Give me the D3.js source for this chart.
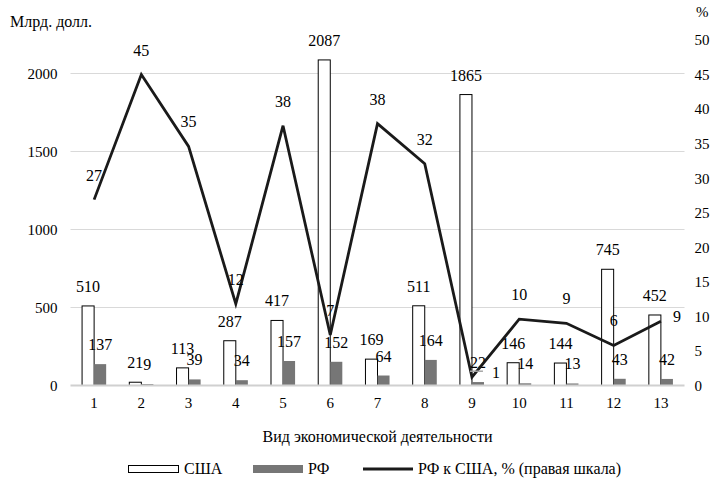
<!DOCTYPE html>
<html>
<head>
<meta charset="utf-8">
<script src="https://cdn.jsdelivr.net/npm/d3@7"></script>
<style>
  body { margin: 0; background: #fff; }
  svg, svg text { font-family: "Liberation Serif", "Times New Roman", serif; }
</style>
</head>
<body>
<div id="chart"></div>
<script>
// Data
var categories = ['1', '2', '3', '4', '5', '6', '7', '8', '9', '10', '11', '12', '13'];
var usa = [510, 21, 113, 287, 417, 2087, 169, 511, 1865, 146, 144, 745, 452];
var rf = [137, 9, 39, 34, 157, 152, 64, 164, 22, 14, 13, 43, 42];
var share = [26.9, 45, 34.6, 11.8, 37.6, 7.3, 37.9, 32.1, 1.2, 9.6, 9.0, 5.8, 9.3];
var shareLabels = ['27', '45', '35', '12', '38', '7', '38', '32', '1', '10', '9', '6', '9'];
var leftTicks = [0, 500, 1000, 1500, 2000];
var rightTicks = [0, 5, 10, 15, 20, 25, 30, 35, 40, 45, 50];

var width = 716, height = 481;
var plotLeft = 70.5, plotRight = 684.5, plotTop = 40, plotBottom = 385.5;

var svg = d3.select('#chart').append('svg')
            .attr('width', width)
            .attr('height', height);

// Scales
var x = d3.scaleBand()
          .domain(categories)
          .range([plotLeft, plotRight])
          .padding(0);

var y = d3.scaleLinear()
          .domain([0, 2000 * (plotBottom - plotTop) / (plotBottom - 73.5)])
          .range([plotBottom, plotTop]);

var y2 = d3.scaleLinear()
           .domain([0, 50])
           .range([plotBottom, plotTop]);

var barW = x.bandwidth() * 0.255;

// Gridlines
svg.append('g')
   .selectAll('line')
   .data(leftTicks.slice(1))
   .enter().append('line')
   .attr('x1', plotLeft).attr('x2', plotRight)
   .attr('y1', function(d) { return y(d); })
   .attr('y2', function(d) { return y(d); })
   .attr('stroke', '#d9d9d9')
   .attr('stroke-width', 1);

// Left axis labels
var yAxis = d3.axisLeft(y)
              .tickValues(leftTicks)
              .tickFormat(d3.format('d'))
              .tickSize(0)
              .tickPadding(13);

svg.append('g')
   .attr('transform', 'translate(' + plotLeft + ',0)')
   .call(yAxis)
   .attr('font-family', null)
   .attr('font-size', 15)
   .call(function(g) { g.select('.domain').remove(); })
   .selectAll('text')
   .attr('fill', '#000');

// Right axis labels
var y2Axis = d3.axisRight(y2)
               .tickValues(rightTicks)
               .tickSize(0)
               .tickPadding(10);

svg.append('g')
   .attr('transform', 'translate(' + plotRight + ',0)')
   .call(y2Axis)
   .attr('font-family', null)
   .attr('font-size', 15)
   .call(function(g) { g.select('.domain').remove(); })
   .selectAll('text')
   .attr('fill', '#000');

// Bars
var groups = svg.append('g')
                .selectAll('g')
                .data(categories)
                .enter().append('g');

groups.append('rect')
      .attr('x', function(d) { return x(d) + x.bandwidth() / 2 - barW; })
      .attr('y', function(d, i) { return y(usa[i]); })
      .attr('width', barW)
      .attr('height', function(d, i) { return plotBottom - y(usa[i]); })
      .attr('fill', '#fff')
      .attr('stroke', '#000')
      .attr('stroke-width', 1);

groups.append('rect')
      .attr('x', function(d) { return x(d) + x.bandwidth() / 2; })
      .attr('y', function(d, i) { return y(rf[i]); })
      .attr('width', barW)
      .attr('height', function(d, i) { return plotBottom - y(rf[i]); })
      .attr('fill', '#767676');

// Bottom axis line
svg.append('line')
   .attr('x1', plotLeft).attr('x2', plotRight)
   .attr('y1', plotBottom).attr('y2', plotBottom)
   .attr('stroke', '#d0d0d0')
   .attr('stroke-width', 2);

// X axis labels
var xAxis = d3.axisBottom(x).tickSize(0).tickPadding(12);
svg.append('g')
   .attr('transform', 'translate(0,' + plotBottom + ')')
   .call(xAxis)
   .attr('font-family', null)
   .attr('font-size', 15)
   .call(function(g) { g.select('.domain').remove(); })
   .selectAll('text')
   .attr('fill', '#000');

// Line
var line = d3.line()
             .x(function(d, i) { return x(categories[i]) + x.bandwidth() / 2; })
             .y(function(d) { return y2(d); });

svg.append('path')
   .attr('d', line(share))
   .attr('fill', 'none')
   .attr('stroke', '#1a1a1a')
   .attr('stroke-width', 2.8)
   .attr('stroke-linejoin', 'miter');

// Bar labels
groups.append('text')
      .attr('x', function(d) { return x(d) + x.bandwidth() / 2 - barW / 2; })
      .attr('y', function(d, i) { return y(usa[i]) - 14; })
      .attr('text-anchor', 'middle')
      .attr('font-size', 16)
      .text(function(d, i) { return usa[i]; });

groups.append('text')
      .attr('x', function(d) { return x(d) + x.bandwidth() / 2 + barW / 2; })
      .attr('y', function(d, i) { return y(rf[i]) - 14; })
      .attr('text-anchor', 'middle')
      .attr('font-size', 16)
      .text(function(d, i) { return rf[i]; });

// Leader line of the label "1" (category 9)
var cx9 = x(categories[8]) + x.bandwidth() / 2;
svg.append('line')
   .attr('x1', cx9 - 2).attr('x2', cx9 + 11)
   .attr('y1', y2(share[8]) - 6).attr('y2', y2(share[8]) - 6)
   .attr('stroke', '#a6a6a6')
   .attr('stroke-width', 1.5);

// Line labels (two are placed on the right, as in the original)
var rightPlaced = [8, 12];
svg.append('g')
   .selectAll('text')
   .data(share)
   .enter().append('text')
   .attr('x', function(d, i) {
     var cx = x(categories[i]) + x.bandwidth() / 2;
     return rightPlaced.indexOf(i) >= 0 ? cx + (i === 8 ? 20 : 12) : cx;
   })
   .attr('y', function(d, i) {
     return rightPlaced.indexOf(i) >= 0 ? y2(d) + 1 : y2(d) - 19;
   })
   .attr('text-anchor', function(d, i) { return rightPlaced.indexOf(i) >= 0 ? 'start' : 'middle'; })
   .attr('font-size', 16)
   .text(function(d, i) { return shareLabels[i]; });

// Titles
svg.append('text')
   .attr('x', 10).attr('y', 27)
   .attr('font-size', 16)
   .text('Млрд. долл.');

svg.append('text')
   .attr('x', 696).attr('y', 17)
   .attr('font-size', 15)
   .text('%');

svg.append('text')
   .attr('x', (plotLeft + plotRight) / 2).attr('y', 442)
   .attr('text-anchor', 'middle')
   .attr('font-size', 16)
   .text('Вид экономической деятельности');

// Legend
var legend = svg.append('g').attr('font-size', 16);

legend.append('rect')
      .attr('x', 128.5).attr('y', 465.5)
      .attr('width', 50).attr('height', 7)
      .attr('fill', '#fff').attr('stroke', '#000');
legend.append('text').attr('x', 184).attr('y', 474).text('США');

legend.append('rect')
      .attr('x', 253).attr('y', 465)
      .attr('width', 50).attr('height', 8)
      .attr('fill', '#767676');
legend.append('text').attr('x', 308).attr('y', 474).text('РФ');

legend.append('line')
      .attr('x1', 363).attr('x2', 413)
      .attr('y1', 469).attr('y2', 469)
      .attr('stroke', '#1a1a1a').attr('stroke-width', 2.8);
legend.append('text').attr('x', 418).attr('y', 474).text('РФ к США, % (правая шкала)');
</script>
</body>
</html>
